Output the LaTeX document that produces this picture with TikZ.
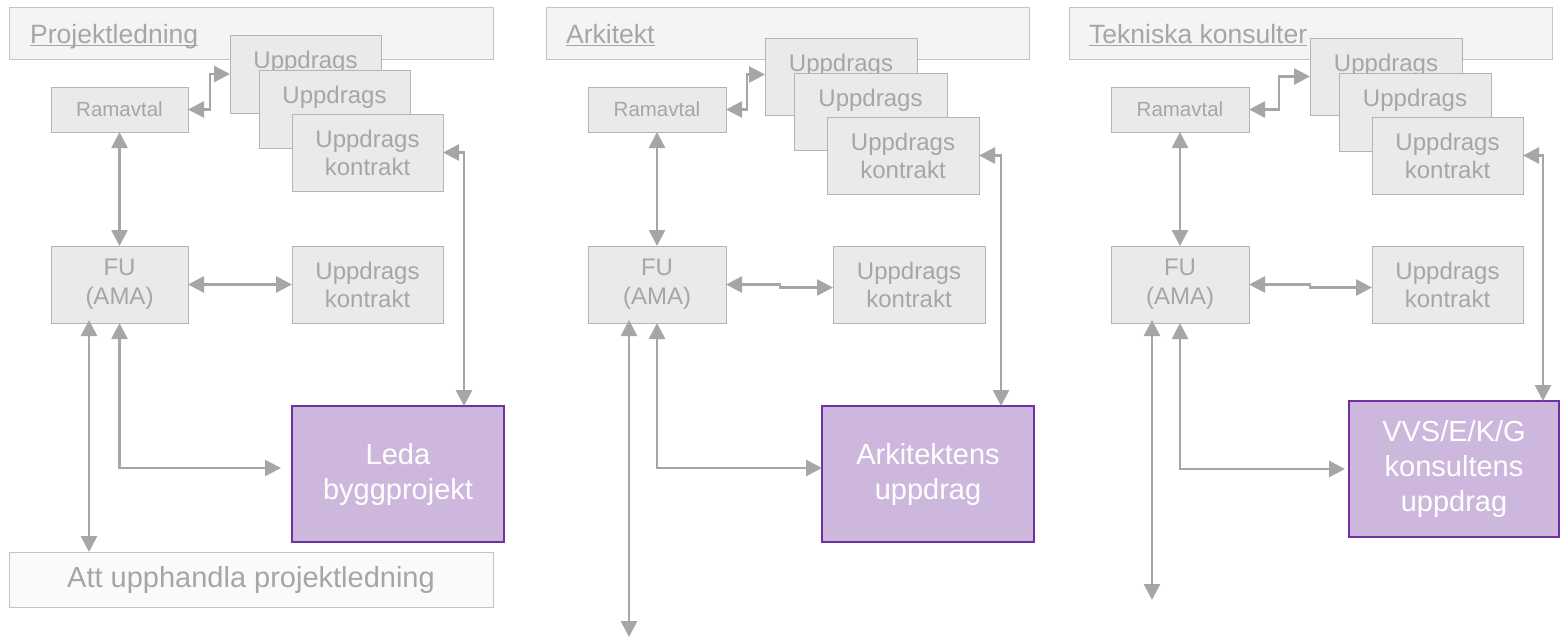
\documentclass[tikz,border=0pt]{standalone}
\usepackage{fontspec}
\setmainfont{Liberation Sans}
\usetikzlibrary{arrows.meta,calc}
\definecolor{txtgray}{HTML}{A6A6A6}
\definecolor{arrgray}{HTML}{A6A6A6}
\definecolor{boxfill}{HTML}{EAEAEA}
\definecolor{boxline}{HTML}{B4B4B4}
\definecolor{hdrfill}{HTML}{F4F4F4}
\definecolor{hdrline}{HTML}{C4C4C4}
\definecolor{attfill}{HTML}{FAFAFA}
\definecolor{purfill}{HTML}{CEB7DD}
\definecolor{purline}{HTML}{7030A0}
\tikzset{
  base/.style={inner sep=0pt, outer sep=0pt, anchor=north west, align=center},
  gbox/.style={base, draw=boxline, fill=boxfill, line width=1pt, text=txtgray, font=\fontsize{24}{28}\selectfont},
  ramb/.style={gbox, font=\fontsize{20.5}{24}\selectfont},
  fubox/.style={gbox, font=\fontsize{24}{29}\selectfont},
  hdr/.style={base, draw=hdrline, fill=hdrfill, line width=1pt},
  attbox/.style={base, draw=hdrline, fill=attfill, line width=1pt, text=txtgray, font=\fontsize{29}{34}\selectfont},
  pbox/.style={base, draw=purline, fill=purfill, line width=2pt, text=white, font=\fontsize{29}{35}\selectfont},
  htext/.style={anchor=base west, inner sep=0pt, text=txtgray, font=\fontsize{26.5}{30}\selectfont},
  uline/.style={draw=txtgray, line width=1.3pt},
  dbl/.style={draw=arrgray, line width=2.7pt, {Triangle[length=16pt,width=16pt]}-{Triangle[length=16pt,width=16pt]}}
}
\begin{document}
\begin{tikzpicture}[x=1pt,y=-1pt]
\fill[white] (0,0) rectangle (1560,640);
\useasboundingbox (0,0) rectangle (1560,640);

% ---------------- Panel 1 ----------------
\node[hdr, minimum width=484pt, minimum height=52pt] (hdr1) at (9,7) {};
\node[htext] (t1) at (30,43) {Projektledning};
\draw[uline] ([yshift=-2.5pt]t1.base west) -- ([yshift=-2.5pt]t1.base east);
\node[gbox, minimum width=151pt, minimum height=78pt] (b1a) at (230,35) {Uppdrags\\\phantom{kontrakt}};
\node[gbox, minimum width=151pt, minimum height=78pt] (b1b) at (259,70) {Uppdrags\\\phantom{kontrakt}};
\node[gbox, minimum width=151pt, minimum height=77pt] (b1c) at (292,114) {Uppdrags\\kontrakt};
\node[ramb, minimum width=137pt, minimum height=45pt] (ram1) at (51,87) {Ramavtal};
\node[fubox, minimum width=137pt, minimum height=77pt] (fu1) at (51,246) {FU\\(AMA)};
\node[gbox, minimum width=151pt, minimum height=77pt] (uk1) at (292,246) {Uppdrags\\kontrakt};
\node[pbox, minimum width=212pt, minimum height=136pt] (leda) at (292,406) {Leda\\byggprojekt};
\node[attbox, minimum width=484pt, minimum height=55pt] (att) at (9,552) {Att upphandla projektledning};

\coordinate (r1) at (464,0);
\coordinate (fa1) at (89,0);
\draw[dbl] (ram1.east) -- ++(22,0) |- (b1a.west);
\draw[dbl] (ram1.south) -- (fu1.north);
\draw[dbl] (fu1.east) -- (uk1.west);
\draw[dbl] (b1c.east) -| (r1 |- leda.north);
\draw[dbl] (fu1.south) |- ([xshift=-11pt,yshift=6pt]leda.west);
\draw[dbl] ([yshift=3pt]fa1 |- fu1.south) -- (fa1 |- att.north);

% ---------------- Panel 2 ----------------
\node[hdr, minimum width=483pt, minimum height=52pt] (hdr2) at (546,7) {};
\node[htext] (t2) at (566,43) {Arkitekt};
\draw[uline] ([yshift=-2.5pt]t2.base west) -- ([yshift=-2.5pt]t2.base east);
\node[gbox, minimum width=152pt, minimum height=77pt] (b2a) at (765,38) {Uppdrags\\\phantom{kontrakt}};
\node[gbox, minimum width=153pt, minimum height=77pt] (b2b) at (794,73) {Uppdrags\\\phantom{kontrakt}};
\node[gbox, minimum width=152pt, minimum height=77pt] (b2c) at (827,117) {Uppdrags\\kontrakt};
\node[ramb, minimum width=138pt, minimum height=45pt] (ram2) at (588,87) {Ramavtal};
\node[fubox, minimum width=138pt, minimum height=77pt] (fu2) at (588,246) {FU\\(AMA)};
\node[gbox, minimum width=152pt, minimum height=77pt] (uk2) at (833,246) {Uppdrags\\kontrakt};
\node[pbox, minimum width=212pt, minimum height=136pt] (ark) at (822,406) {Arkitektens\\uppdrag};

\coordinate (r2) at (1001,0);
\coordinate (fa2) at (629,637);
\draw[dbl] (ram2.east) -- ++(21,0) |- ([yshift=2pt]b2a.west);
\draw[dbl] (ram2.south) -- (fu2.north);
\draw[dbl] (fu2.east) -- ++(54,0) |- ([yshift=-3pt]uk2.west);
\draw[dbl] (b2c.east) -| (r2 |- ark.north);
\draw[dbl] (fu2.south) |- ([yshift=6pt]ark.west);
\draw[dbl] ([yshift=3pt]fa2 |- fu2.south) -- (fa2);

% ---------------- Panel 3 ----------------
\node[hdr, minimum width=483pt, minimum height=52pt] (hdr3) at (1069,7) {};
\node[htext] (t3) at (1089,43) {Tekniska konsulter};
\draw[uline] ([yshift=-2.5pt]t3.base west) -- ([yshift=-2.5pt]t3.base east);
\node[gbox, minimum width=152pt, minimum height=77pt] (b3a) at (1310,38) {Uppdrags\\\phantom{kontrakt}};
\node[gbox, minimum width=152pt, minimum height=78pt] (b3b) at (1339,73) {Uppdrags\\\phantom{kontrakt}};
\node[gbox, minimum width=151pt, minimum height=77pt] (b3c) at (1372,117) {Uppdrags\\kontrakt};
\node[ramb, minimum width=138pt, minimum height=45pt] (ram3) at (1111,87) {Ramavtal};
\node[fubox, minimum width=138pt, minimum height=77pt] (fu3) at (1111,246) {FU\\(AMA)};
\node[gbox, minimum width=151pt, minimum height=77pt] (uk3) at (1372,246) {Uppdrags\\kontrakt};
\node[pbox, minimum width=210pt, minimum height=136pt] (vvs) at (1349,401) {VVS/E/K/G\\konsultens\\uppdrag};

\coordinate (r3) at (1543,0);
\coordinate (fa3) at (1152,600);
\draw[dbl] (ram3.east) -- ++(30,0) |- (b3a.west);
\draw[dbl] (ram3.south) -- (fu3.north);
\draw[dbl] (fu3.east) -- ++(61,0) |- ([yshift=-3pt]uk3.west);
\draw[dbl] (b3c.east) -| (r3 |- vvs.north);
\draw[dbl] (fu3.south) |- ([xshift=-4pt]vvs.west);
\draw[dbl] ([yshift=3pt]fa3 |- fu3.south) -- (fa3);
\end{tikzpicture}
\end{document}
